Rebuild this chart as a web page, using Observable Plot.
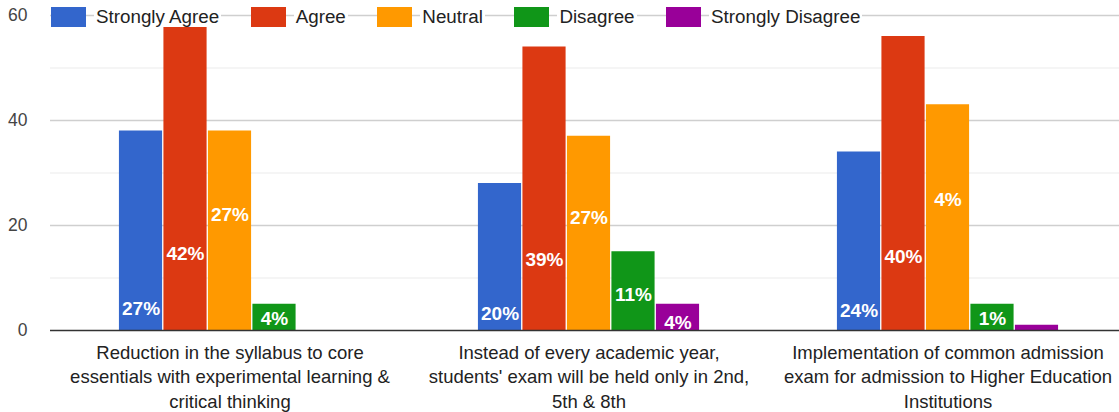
<!DOCTYPE html>
<html><head><meta charset="utf-8">
<script src="https://cdn.jsdelivr.net/npm/d3@7"></script>
<script src="https://cdn.jsdelivr.net/npm/@observablehq/plot@0.6"></script>
<style>
html,body{margin:0;padding:0;background:#fff;overflow:hidden;}
#wrap{position:relative;width:1119px;height:412px;overflow:hidden;font-family:"Liberation Sans",Arial,sans-serif;}
#wrap svg{position:absolute;left:0;top:0;max-width:none !important;}
#legend{position:absolute;top:7px;left:51px;display:flex;align-items:center;height:20px;}
.item{display:flex;align-items:center;margin-right:29.5px;}
.sw{width:35px;height:20px;}
.lb{background:#fff;margin-left:8px;padding:0 2px;font-size:18.8px;color:#222;line-height:20px;white-space:nowrap;}
</style></head><body><div id="wrap"></div>
<script>
// ---- data ----
const questions = [
  "Reduction in the syllabus to core essentials with experimental learning & critical thinking",
  "Instead of every academic year, students' exam will be held only in 2nd, 5th & 8th",
  "Implementation of common admission exam for admission to Higher Education Institutions"
];
const questionTicks = [
  "Reduction in the syllabus to core\nessentials with experimental learning &\ncritical thinking",
  "Instead of every academic year,\nstudents' exam will be held only in 2nd,\n5th & 8th",
  "Implementation of common admission\nexam for admission to Higher Education\nInstitutions"
];
const series = ["Strongly Agree", "Agree", "Neutral", "Disagree", "Strongly Disagree"];
const stronglyAgree     = [38, 28, 34];
const agree             = [58, 54, 56];
const neutral           = [38, 37, 43];
const disagree          = [5, 15, 5];
const stronglyDisagree  = [0, 5, 1];
const stronglyAgreeLabels    = ["27%", "20%", "24%"];
const agreeLabels            = ["42%", "39%", "40%"];
const neutralLabels          = ["27%", "27%", "4%"];
const disagreeLabels         = ["4%", "11%", "1%"];
const stronglyDisagreeLabels = ["", "4%", ""];
const yTicks = [0, 20, 40, 60];
const yMinorTicks = [10, 30, 50];

// ---- styles ----
const colors = ["#3366cc", "#dc3912", "#ff9900", "#109618", "#990099"];
const labelFrac = {"Strongly Agree": 0.11, "Agree": 0.25, "Neutral": 0.58, "Disagree": 0.45, "Strongly Disagree": 0.3};
const font = "'Liberation Sans', Arial, sans-serif";
const svgStyle = {fontFamily: font, background: "transparent", overflow: "visible", maxWidth: "none", height: "412px"};
const common = {
  width: 1127, height: 412,
  marginLeft: 50, marginRight: 0, marginTop: 15, marginBottom: 82,
  y: {domain: [0, 60], axis: null}
};

const values = [stronglyAgree, agree, neutral, disagree, stronglyDisagree];
const labels = [stronglyAgreeLabels, agreeLabels, neutralLabels, disagreeLabels, stronglyDisagreeLabels];
const table = questions.flatMap((q, i) => series.map((s, j) => ({question: q, series: s, value: values[j][i], label: labels[j][i]})));
const tickMap = new Map(questions.map((q, i) => [q, questionTicks[i]]));

// background layer: grid + y tick labels
const grid = Plot.plot({
  ...common,
  style: svgStyle,
  marks: [
    Plot.ruleY(yMinorTicks, {stroke: "#ececec", strokeWidth: 1.2}),
    Plot.ruleY(yTicks.filter(d => d > 0), {stroke: "#cfcfcf", strokeWidth: 1.4}),
    Plot.text(yTicks, {y: d => d, text: d => String(d), frameAnchor: "left", textAnchor: "end", dx: -23, fontSize: 17.5, fill: "#444"})
  ]
});

// main layer: grouped bars
const chart = Plot.plot({
  ...common,
  style: svgStyle,
  fx: {domain: questions, paddingInner: 0.384, paddingOuter: 0.192, round: false, label: null, axis: null},
  x: {domain: series, paddingInner: 0.03, paddingOuter: 0, round: false, axis: null},
  color: {domain: series, range: colors},
  marks: [
    Plot.barY(table, {fx: "question", x: "series", y: "value", fill: "series"}),
    Plot.text(table.filter(d => d.label), {
      fx: "question", x: "series", y: d => d.value * labelFrac[d.series], text: "label",
      fill: "white", fontWeight: "bold", fontSize: 19
    }),
    Plot.axisFx({anchor: "bottom", tickSize: 0, tickPadding: 11, fontSize: 18.5, lineHeight: 1.32, fill: "#222", label: null, tickFormat: d => tickMap.get(d)})
  ]
});

// top layer: baseline
const base = Plot.plot({
  ...common,
  style: svgStyle,
  marks: [Plot.ruleY([0], {stroke: "#333", strokeWidth: 1.6})]
});

const wrap = document.getElementById("wrap");
wrap.appendChild(grid);
wrap.appendChild(chart);
wrap.appendChild(base);

const legend = document.createElement("div");
legend.id = "legend";
series.forEach((s, i) => {
  const it = document.createElement("div");
  it.className = "item";
  const sw = document.createElement("div");
  sw.className = "sw";
  sw.style.background = colors[i];
  const lb = document.createElement("span");
  lb.className = "lb";
  lb.textContent = s;
  it.appendChild(sw); it.appendChild(lb);
  legend.appendChild(it);
});
wrap.appendChild(legend);
</script></body></html>
